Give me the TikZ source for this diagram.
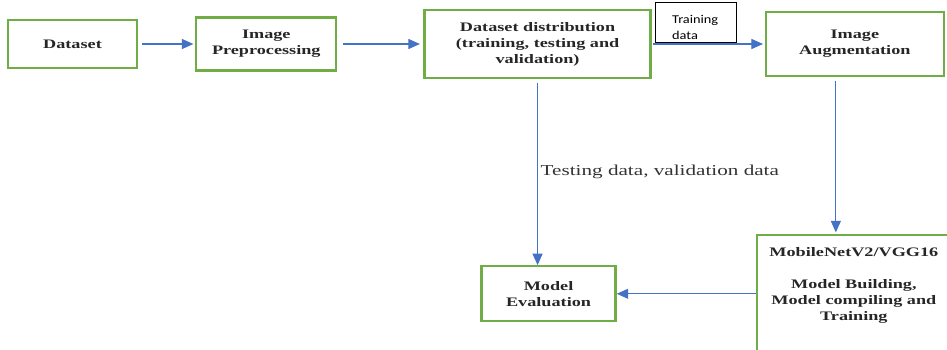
\documentclass[tikz,border=0pt]{standalone}
\usepackage{fontspec}
\setmainfont{Liberation Serif}[FakeStretch=1.4]
\newfontfamily\calibrifont{Carlito}[FakeStretch=1.2]
\usepackage{tikz}
\usetikzlibrary{positioning, arrows.meta}
\definecolor{boxgreen}{HTML}{70AD47}
\definecolor{flowblue}{HTML}{4472C4}

\begin{document}
\begin{tikzpicture}[node distance=8mm,
	stage/.style={draw=boxgreen, line width=1.3pt, align=center, inner sep=0pt, text=black!85, font=\bfseries\fontsize{7.4}{9.1}\selectfont},
	flow/.style={draw=flowblue, line width=0.6pt, -{Triangle[length=2.3mm, width=2mm]}}]
	\useasboundingbox (0,0) rectangle (18.94,-6.98);
	\clip (0,0) rectangle (18.94,-6.98);
	\node[stage, minimum width=2.58cm, minimum height=0.96cm] (data) at (1.45,-0.88) {Dataset};
	\node[stage, minimum width=2.8cm, minimum height=1.06cm, right=1.14cm of data] (prep) {Image\\Preprocessing};
	\node[stage, minimum width=4.52cm, minimum height=1.36cm, right=1.72cm of prep] (dist) {Dataset distribution\\(training, testing and\\validation)};
	\node[stage, minimum width=3.56cm, minimum height=1.28cm, right=2.26cm of dist] (aug) {Image\\Augmentation};
	\node[draw, line width=0.5pt, inner xsep=0.34cm, inner ysep=0pt, text width=0.94cm, text height=10.5pt, minimum height=0.8cm, align=left, font=\calibrifont\fontsize{6.8}{9.2}\selectfont, anchor=north west] (train) at ([xshift=0.6mm, yshift=1.4mm]dist.north east) {Training\\data};
	\node[stage, minimum width=2.68cm, minimum height=1.1cm, below=3.72cm of dist, xshift=2.2mm] (eval) {Model\\Evaluation};
	\node[stage, below=3.14cm of aug.south west, anchor=north west, xshift=-1.8mm] (mob) {\begin{minipage}[t][3cm][t]{3.88cm}\centering
		\vspace{2.5mm}MobileNetV2/VGG16\\[9.1pt]
		Model Building,\\
		Model compiling and\\
		Training\end{minipage}};
	\draw[flow, shorten <=2pt, shorten >=1pt] (data) -- (prep);
	\draw[flow, shorten <=3pt, shorten >=2pt] (prep) -- (dist);
	\draw[flow, shorten <=1pt, shorten >=1pt] (dist) -- (aug);
	\draw[flow, shorten <=2pt] (dist) -- (dist |- eval.north)
		node[midway, right, inner sep=1.5pt, text=black!80, font=\fontsize{8.6}{10}\selectfont] {Testing data, validation data};
	\draw[flow, shorten <=2pt, shorten >=1pt] ([xshift=-3.8mm]aug.south) -- ([xshift=-3.8mm]aug.south |- mob.north);
	\draw[flow] (mob.west |- eval.east) -- (eval.east);
\end{tikzpicture}
\end{document}
